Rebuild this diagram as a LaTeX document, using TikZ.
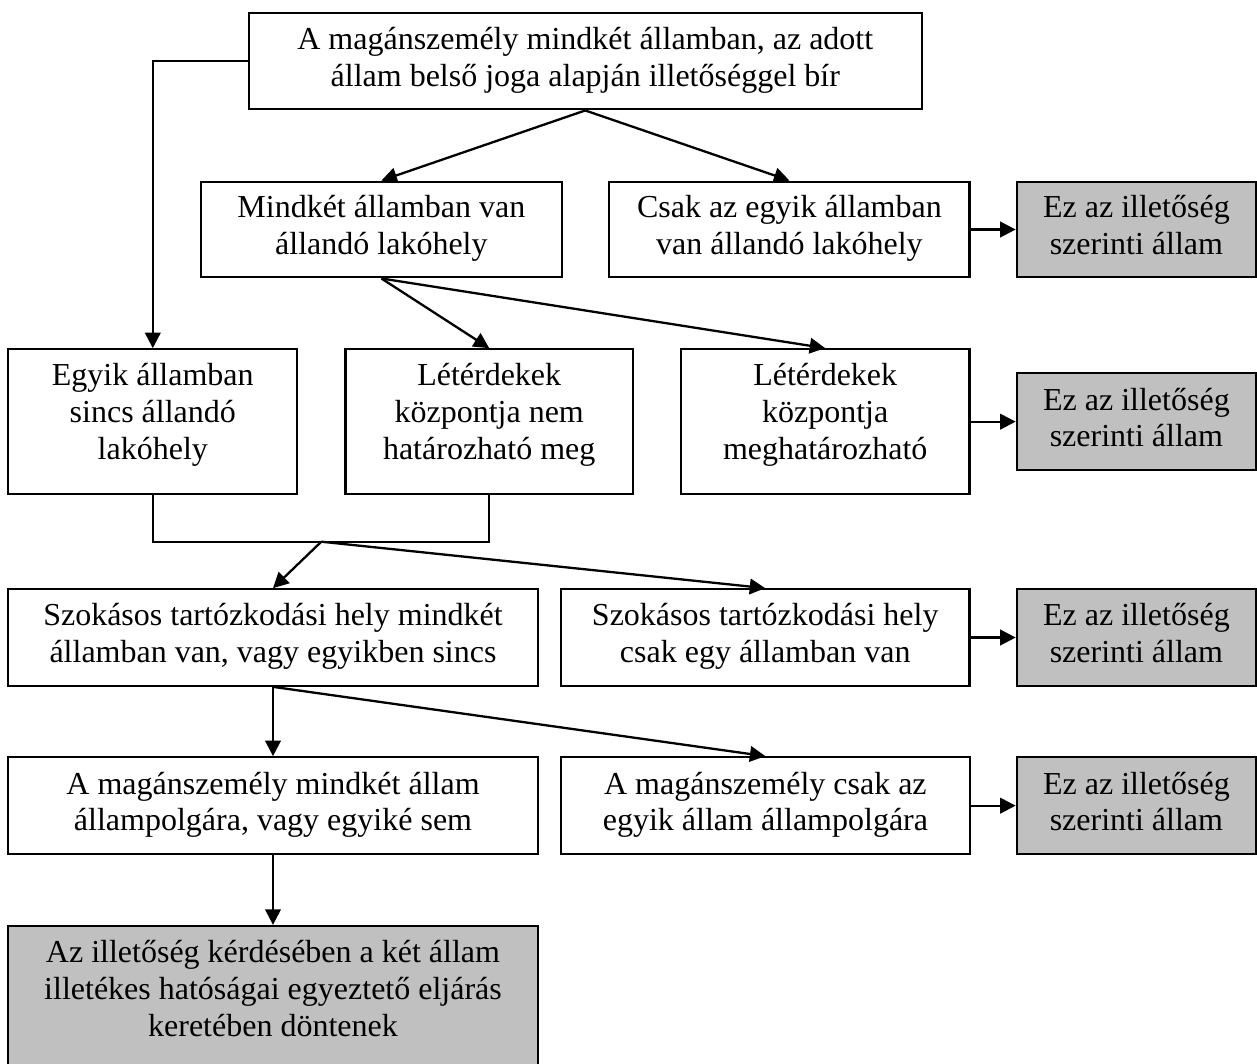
\documentclass[tikz,border=0pt]{standalone}
\usepackage{fontspec}
\setmainfont{Liberation Serif}
\usetikzlibrary{arrows.meta,calc}
\definecolor{boxgray}{RGB}{192,192,192}
\tikzset{
  box/.style={draw=black, line width=2.3pt, fill=white, inner sep=0pt, align=center,
    font=\fontsize{32}{36.8}\selectfont,
    execute at begin node={\rule{0pt}{28pt}},
    execute at end node={\rule[-#1pt]{0pt}{#1pt}}},
  box/.default=8.5,
  graybox/.style={box=#1, fill=boxgray},
  graybox/.default=8.5,
  arr/.style={line width=2.3pt, -{Triangle[length=15.5pt,width=15.5pt]}},
  plain/.style={line width=2.3pt}
}
\begin{document}
\begin{tikzpicture}[x=1pt,y=-1pt]
\useasboundingbox (0,0) rectangle (1257,1063);
% row 1
\node[box, minimum width=672.9pt, minimum height=96pt] (top) at (585.25,61.3)
  {A magánszemély mindkét államban, az adott\\állam belső joga alapján illetőséggel bír};
% row 2
\node[box, minimum width=360.8pt, minimum height=95.6pt] (m1) at (381.4,229.5)
  {Mindkét államban van\\állandó lakóhely};
\node[box, minimum width=360.2pt, minimum height=95.6pt] (c1) at (789.4,229.5)
  {Csak az egyik államban\\van állandó lakóhely};
\node[graybox, minimum width=239.2pt, minimum height=95.6pt] (g1) at (1136.4,229.5)
  {Ez az illetőség\\szerinti állam};
% row 3
\node[box=20, minimum width=289pt, minimum height=144.7pt] (e3) at (152.8,421.65)
  {Egyik államban\\sincs állandó\\lakóhely};
\node[box=20, minimum width=287.6pt, minimum height=144.7pt] (l3) at (489.2,421.65)
  {Létérdekek\\központja nem\\határozható meg};
\node[box=20, minimum width=288.6pt, minimum height=144.7pt] (h3) at (825.2,421.65)
  {Létérdekek\\központja\\meghatározható};
\node[graybox, minimum width=239.2pt, minimum height=96.7pt] (g3) at (1136.4,421.65)
  {Ez az illetőség\\szerinti állam};
% row 4
\node[box, minimum width=529.4pt, minimum height=96.4pt] (s4) at (273,637.5)
  {Szokásos tartózkodási hely mindkét\\államban van, vagy egyikben sincs};
\node[box, minimum width=408.5pt, minimum height=96.4pt] (c4) at (765.25,637.5)
  {Szokásos tartózkodási hely\\csak egy államban van};
\node[graybox, minimum width=239.2pt, minimum height=96.4pt] (g4) at (1136.4,637.5)
  {Ez az illetőség\\szerinti állam};
% row 5
\node[box, minimum width=529.4pt, minimum height=96.7pt] (a5) at (273,805.65)
  {A magánszemély mindkét állam\\állampolgára, vagy egyiké sem};
\node[box, minimum width=408.8pt, minimum height=96.7pt] (b5) at (765.4,805.65)
  {A magánszemély csak az\\egyik állam állampolgára};
\node[graybox, minimum width=239.2pt, minimum height=96.7pt] (g5) at (1136.4,805.65)
  {Ez az illetőség\\szerinti állam};
% final (runs past the lower edge of the page)
\node[graybox=24.4, minimum width=529.4pt, minimum height=149pt] (fin) at (273,1000.5)
  {Az illetőség kérdésében a két állam\\illetékes hatóságai egyeztető eljárás\\keretében döntenek};
% connectors
\draw[arr] (top.west) -| (e3.north);
\draw[arr] (top.south) -- (m1.north);
\draw[arr] (top.south) -- (c1.north);
\draw[arr] (c1.east) -- (g1.west);
\draw[arr] (m1.south) -- (l3.north);
\draw[arr] (m1.south) -- (h3.north);
\draw[arr] (h3.east) -- (g3.west);
\coordinate (j) at (321.3,541.7);
\draw[plain] (e3.south) |- (j) -| (l3.south);
\draw[arr] (j) -- (s4.north);
\draw[arr] (j) -- (c4.north);
\draw[arr] (c4.east) -- (g4.west);
\draw[arr] (s4.south) -- (a5.north);
\draw[arr] (s4.south) -- (b5.north);
\draw[arr] (b5.east) -- (g5.west);
\draw[arr] (a5.south) -- (fin.north);
\end{tikzpicture}
\end{document}
